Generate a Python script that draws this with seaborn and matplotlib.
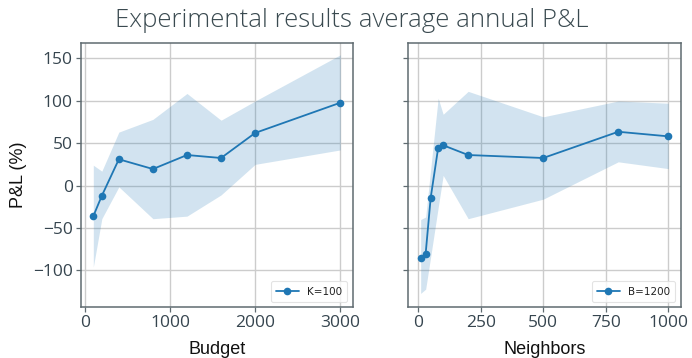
import matplotlib
matplotlib.use("Agg")
import matplotlib.pyplot as plt
from matplotlib import font_manager
import seaborn as sns
import numpy as np

# ---- data ----
budget = [100, 200, 400, 800, 1200, 1600, 2000, 3000]
budget_mean = [-36, -12, 31, 19.5, 36, 32.5, 62, 97.6]
budget_upper = [24, 17, 63, 78, 108.5, 77, 99.6, 154]
budget_lower = [-96, -39, -1.5, -39, -36, -11, 25, 42]

neighbors = [10, 30, 50, 80, 100, 200, 500, 800, 1000]
neigh_mean = [-85.5, -80, -14.5, 44.5, 47.5, 36, 32.5, 63.4, 58]
neigh_upper = [-40, -37, 19, 103, 84, 111, 81, 99.6, 97]
neigh_lower = [-127, -122, -84, -26, 12, -39, -16, 28, 20]

sns.set_style("white")

def has_font(name):
    try:
        font_manager.findfont(name, fallback_to_default=False)
        return True
    except Exception:
        return False

tick_font = "Open Sans" if has_font("Open Sans") else "DejaVu Sans"
label_font = "Liberation Sans"

plt.rcParams['font.family'] = ['DejaVu Sans']

fig = plt.figure(figsize=(6.92, 3.58), dpi=100)
ax1 = fig.add_axes([0.117, 0.1425, 0.3926, 0.7375])
ax2 = fig.add_axes([0.590, 0.1425, 0.3936, 0.7375], sharey=ax1)

c0 = "#1f77b4"
tick_color = "#36454f"
spine_color = "#5f6b70"

def style(ax):
    ax.grid(True, color="#cccccc", lw=1.0)
    ax.set_axisbelow(True)
    for s in ax.spines.values():
        s.set_color(spine_color)
        s.set_linewidth(1.1)
    ax.tick_params(direction="out", length=3.5, width=0.9, color=spine_color,
                   labelcolor=tick_color, labelsize=12.5, bottom=True, left=True, pad=2.5)
    for lab in ax.get_xticklabels() + ax.get_yticklabels():
        lab.set_fontfamily(tick_font)

# left
ax1.fill_between(budget, budget_lower, budget_upper, color=c0, alpha=0.2, lw=0)
sns.lineplot(x=budget, y=budget_mean, marker="o", markersize=5.5, markeredgewidth=0,
             color=c0, lw=1.3, label="K=100", ax=ax1)
# right
ax2.fill_between(neighbors, neigh_lower, neigh_upper, color=c0, alpha=0.2, lw=0)
sns.lineplot(x=neighbors, y=neigh_mean, marker="o", markersize=5.5, markeredgewidth=0,
             color=c0, lw=1.3, label="B=1200", ax=ax2)

ax1.set_ylim(-143, 168)
ax1.set_yticks([-100, -50, 0, 50, 100, 150])
ax1.set_xticks([0, 1000, 2000, 3000])
ax2.set_xticks([0, 250, 500, 750, 1000])
plt.setp(ax2.get_yticklabels(), visible=False)

ax1.set_xlabel("Budget", fontsize=13, family=label_font, color="#111111", labelpad=7)
ax2.set_xlabel("Neighbors", fontsize=13, family=label_font, color="#111111", labelpad=7)
ax1.set_ylabel("P&L (%)", fontsize=13, family=label_font, color="#111111", labelpad=4)
ax2.set_ylabel("")

for ax in (ax1, ax2):
    style(ax)
    leg = ax.legend(loc="lower right", fontsize=7.5, frameon=True, handlelength=2.2,
                    borderpad=0.5)
    leg.get_frame().set_edgecolor("#dddddd")
    leg.get_frame().set_linewidth(0.8)
    for t in leg.get_texts():
        t.set_color("#222222")

fig.text(0.508, 0.942, "Experimental results average annual P&L", ha="center", va="center",
         fontsize=18.5, family=tick_font, fontweight="light", color="#3a4a50")

fig.savefig("out.png", dpi=100)
